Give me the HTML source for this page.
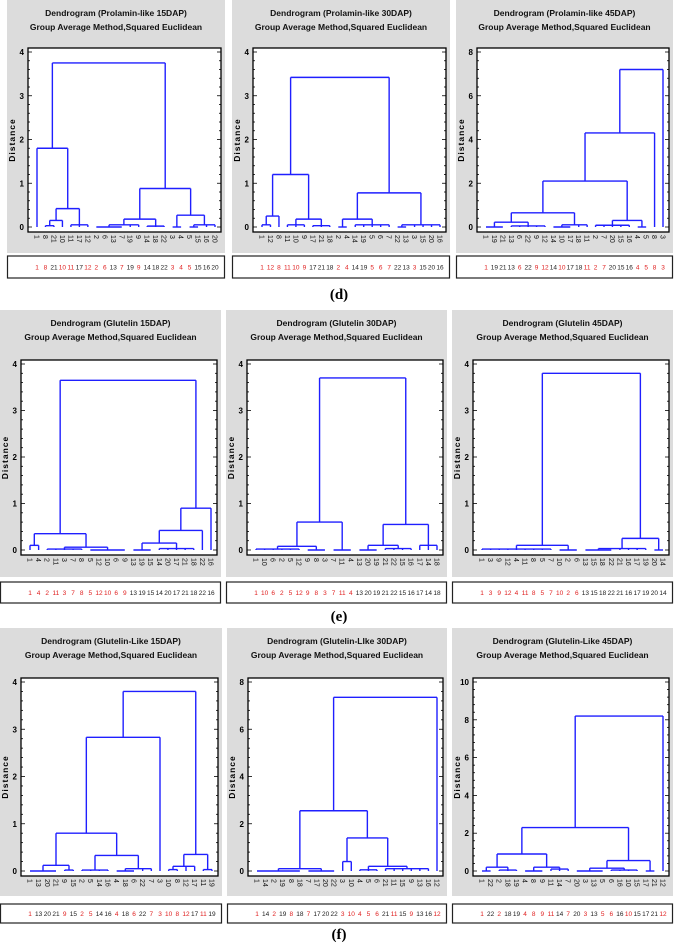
<!DOCTYPE html>
<html><head><meta charset="utf-8"><style>
html,body{margin:0;padding:0;background:#fff;}
svg{display:block;font-family:"Liberation Sans",sans-serif;}
</style></head><body>
<svg id="fig" width="678" height="943" viewBox="0 0 678 943" xmlns="http://www.w3.org/2000/svg"></svg>
<script>
// ---- data ----
const titles1 = ["Dendrogram (Prolamin-like 15DAP)","Dendrogram (Prolamin-like 30DAP)","Dendrogram (Prolamin-like 45DAP)","Dendrogram (Glutelin 15DAP)","Dendrogram (Glutelin 30DAP)","Dendrogram (Glutelin 45DAP)","Dendrogram (Glutelin-Like 15DAP)","Dendrogram (Glutelin-LIke 30DAP)","Dendrogram (Glutelin-Like 45DAP)"];
const yMaxes = [4,4,8,4,4,4,4,8,10];
const yTickSteps = [1,1,2,1,1,1,1,2,2];
const leaves1 = [1,8,21,10,11,17,12,2,6,13,7,19,9,14,18,22,3,4,5,15,16,20];
const leaves2 = [1,12,8,11,10,9,17,21,18,2,4,14,19,5,6,7,22,13,3,15,20,16];
const leaves3 = [1,19,21,13,6,22,9,12,14,10,17,18,11,2,7,20,15,16,4,5,8,3];
const leaves4 = [1,4,2,11,3,7,8,5,12,10,6,9,13,19,15,14,20,17,21,18,22,16];
const leaves5 = [1,10,6,2,5,12,9,8,3,7,11,4,13,20,19,21,22,15,16,17,14,18];
const leaves6 = [1,3,9,12,4,11,8,5,7,10,2,6,13,15,18,22,21,16,17,19,20,14];
const leaves7 = [1,13,20,21,9,15,2,5,14,16,4,18,6,22,7,3,10,8,12,17,11,19];
const leaves8 = [1,14,2,19,8,18,7,17,20,22,3,10,4,5,6,21,11,15,9,13,16,12];
const leaves9 = [1,22,2,18,19,4,8,9,11,14,7,20,3,13,5,6,16,10,15,17,21,12];
// nested merge trees: [height, child, child, ...]; numbers = leaf positions
const tree1 = [3.75,[1.8,0,[0.42,[0.15,[0.03,1,2],3],[0.05,4,5,6]]],[0.88,[0.18,[0.05,[0.0,7,8,9,10],11,12],[0.02,13,14,15]],[0.27,[0.0,16,17],[0.05,[0.0,18,19],20,21]]]];
const tree2 = [3.42,[1.2,[0.25,[0.05,0,1],2],[0.18,[0.05,3,4,5],[0.03,6,7,8]]],[0.78,[0.18,[0.0,9,10],[0.05,11,12,13,14,15]],[0.05,[0.0,16,17],18,19,20,21]]];
const tree3 = [7.2,[4.3,[2.1,[0.65,[0.22,[0.0,0,1,2],[0.05,3,4,5,6,7]],[0.1,[0.0,8,9,10],11,12]],[0.3,[0.08,13,14,15,16,17],[0.0,18,19]]],20],21];
const tree4 = [3.65,[0.35,[0.1,0,1],[0.06,[0.02,2,3,4,5,6],[0.0,7,8,9,10,11]]],[0.9,[0.42,[0.15,[0.0,12,13,14],[0.03,15,16,17,18,19]],20],21]];
const tree5 = [3.7,[0.6,[0.08,[0.02,0,1,2,3,4,5],[0.0,6,7,8]],[0.0,9,10,11]],[0.55,[0.1,[0.0,12,13,14],[0.03,15,16,17,18]],[0.1,19,20,21]]];
const tree6 = [3.8,[0.1,[0.02,0,1,2,3,4,5,6,7,8],[0.0,9,10,11]],[0.25,[0.03,[0.0,12,13,14,15],16,17,18,19],[0.0,20,21]]];
const tree7 = [3.8,[2.83,[0.8,[0.12,[0.0,0,1,2,3],[0.02,4,5]],[0.33,[0.02,6,7,8,9],[0.05,[0.0,10,11,12],13,14]]],15],[0.35,[0.1,[0.03,16,17],18,19],[0.03,20,21]]];
const tree8 = [7.35,[2.55,[0.1,[0.0,0,1,2,3,4,5],[0.0,6,7,8,9]],[1.4,[0.4,10,11],[0.2,[0.05,12,13,14],[0.1,15,16,17,18,19,20]]]],21];
const tree9 = [8.2,[2.3,[0.9,[0.2,[0.0,0,1],[0.05,2,3,4]],[0.2,[0.0,5,6,7],[0.1,8,9,10]]],[0.55,[0.15,[0.0,11,12,13,14],[0.05,15,16,17,18]],[0.0,19,20]]],21];
const allLeaves=[leaves1,leaves2,leaves3,leaves4,leaves5,leaves6,leaves7,leaves8,leaves9];
const allTrees=[tree1,tree2,tree3,tree4,tree5,tree6,tree7,tree8,tree9];

// ---- layout ----
const rows=[{g0:0,g1:253,t:48,b:232,l0:256,l1:278,cap:"(d)",capY:299,xs:[[7,225],[232,450],[456,673]]},
            {g0:310,g1:577,t:360,b:555,l0:582,l1:603,cap:"(e)",capY:621,xs:[[0,221],[226,447],[452,673]]},
            {g0:628,g1:896,t:678,b:876,l0:904,l1:923,cap:"(f)",capY:939,xs:[[0,222],[227,447],[452,673]]}];
const NS="http://www.w3.org/2000/svg";
const svg=document.getElementById('fig');
function mk(tag,attrs,parent,txt){const e=document.createElementNS(NS,tag);for(const k in attrs)e.setAttribute(k,attrs[k]);if(txt!==undefined)e.textContent=txt;(parent||svg).appendChild(e);return e;}

rows.forEach((r,ri)=>{
  r.xs.forEach((px,ci)=>{
    const k=ri*3+ci, leaves=allLeaves[k], tree=allTrees[k], ymax=yMaxes[k];
    const g=mk('g',{});
    
    
    const bg=mk('rect',{x:px[0],y:r.g0,width:px[1]-px[0],height:r.g1-r.g0,fill:'#dcdcdc'},g);
    
    const cx=(px[0]+px[1])/2;
    const t1=mk('text',{x:cx,y:r.g0+16,'text-anchor':'middle','font-size':8.5,'font-weight':'bold',fill:'#111'},g,titles1[k]);
    
    const t2=mk('text',{x:cx,y:r.g0+30,'text-anchor':'middle','font-size':8.5,'font-weight':'bold',fill:'#111'},g,'Group Average Method,Squared Euclidean');
    
    const L=px[0]+21, R=px[1]-4, T=r.t, B=r.b;
    const box=mk('rect',{x:L,y:T,width:R-L,height:B-T,fill:'#fff',stroke:'#000','stroke-width':1.3},g);
    
    const y0=B-5, yTop=T+4;
    const ys=v=>y0-(v/ymax)*(y0-yTop);
    const step=yTickSteps[k];
    for(let v=0;v<=ymax+1e-9;v+=step/5){
      const major=Math.abs(v/step-Math.round(v/step))<1e-6;
      const len=major?4:2;
      mk('line',{x1:L,x2:L+len,y1:ys(v),y2:ys(v),stroke:'#000','stroke-width':0.8},g);
      mk('line',{x1:R,x2:R-len,y1:ys(v),y2:ys(v),stroke:'#000','stroke-width':0.8},g);
      if(major){const tl=mk('text',{x:L-4,y:ys(v)+3,'text-anchor':'end','font-size':8,'font-weight':'bold'},g,String(Math.round(v)));
        }
    }
    const yl=mk('text',{x:0,y:0,transform:`translate(${px[0]+8},${(T+B)/2}) rotate(-90)`,'text-anchor':'middle','font-size':8.5,'font-weight':'bold','letter-spacing':1},g,'Distance');
    
    const x0=L+9, x1=R-6, n=leaves.length;
    const xs=i=>x0+i*(x1-x0)/(n-1);
    function draw(node){
      if(typeof node==='number') return {x:xs(node),h:0};
      const h=node[0], kids=node.slice(1).map(draw);
      let mn=1e9,mx=-1e9;
      kids.forEach(c=>{mn=Math.min(mn,c.x);mx=Math.max(mx,c.x);
        const ln=mk('line',{x1:c.x,x2:c.x,y1:ys(c.h),y2:ys(h),stroke:'#1f1fff','stroke-width':1.4},g);
        });
      const hl=mk('line',{x1:mn,x2:mx,y1:ys(h),y2:ys(h),stroke:'#1f1fff','stroke-width':1.4},g);
      
      return {x:(mn+mx)/2,h};
    }
    draw(tree);
    leaves.forEach((lab,i)=>{
      const tx=mk('text',{x:0,y:0,transform:`translate(${xs(i)-2.5},${B+3}) rotate(90)`,'font-size':7,fill:'#111'},g,String(lab));
      
    });
    const lb=mk('rect',{x:px[0]+0.5,y:r.l0,width:px[1]-px[0]-1,height:r.l1-r.l0,fill:'#fff',stroke:'#222','stroke-width':1.2},g);
    
    leaves.forEach((lab,i)=>{
      const tx=mk('text',{x:xs(i),y:(r.l0+r.l1)/2+2.5,'text-anchor':'middle','font-size':6.5,fill:lab<=12?'#e02020':'#222'},g,String(lab));
      
    });
  });
  const c=mk('text',{x:339,y:r.capY,'text-anchor':'middle','font-size':15,'font-weight':'bold','font-family':'Liberation Serif, serif'},svg,r.cap);
  
});
</script>
</body></html>
